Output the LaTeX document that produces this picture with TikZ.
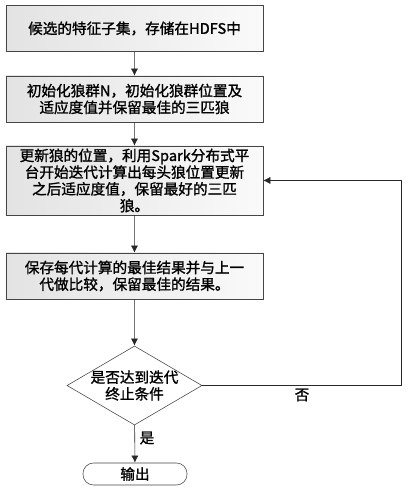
\documentclass[tikz,border=0pt]{standalone}
\usepackage{fontspec}
\setmainfont{Noto Sans CJK SC}[BoldFont={Noto Sans CJK SC},BoldFeatures={FakeBold=1.3}]
\usepackage{xcolor}
\definecolor{Col1}{RGB}{70,70,70}
\definecolor{Col2}{RGB}{40,40,40}
\usepackage{tikz}
\usetikzlibrary{shapes}
\usetikzlibrary{arrows.meta}
\tikzstyle{Step}=[rectangle,draw=Col1,left color=black!11,right color=black!2,
minimum width=6.425cm,text width=6.2cm,align=center,inner sep=0pt,
font=\fontsize{10.4}{11.9}\selectfont\bfseries]
\tikzstyle{Test}=[diamond,draw=Col1,fill=white,shape aspect=1.71,inner sep=-3pt,
minimum width=3.375cm,minimum height=1.975cm,align=center,
font=\fontsize{10.4}{11.9}\selectfont\bfseries]
\tikzstyle{Stop}=[rectangle,rounded corners=7.5pt,draw=Col1,fill=white,
minimum width=2.6cm,minimum height=0.55cm,inner sep=0pt,
font=\fontsize{10.4}{11.9}\selectfont\bfseries]
\tikzstyle{Edge}=[draw=Col2,thin,-{Latex[length=5pt,width=5pt]}]
\tikzstyle{NodeST}=[font=\fontsize{10.4}{11.9}\selectfont\bfseries]

\begin{document}
\begin{tikzpicture}[xscale=.025,yscale=.025]
        \useasboundingbox(0,0)rectangle(408,-500);
        \node[Step,minimum height=1.15cm](set)at(134.5,-28.5)
            {候选的特征子集，存储在HDFS中};
        \node[Step,minimum height=1.15cm](init)at(134.5,-99.00)
            {初始化狼群N，初始化狼群位置及\\适应度值并保留最佳的三匹狼};
        \node[Step,minimum height=1.725cm](upd)at(134.5,-180.5)
            {更新狼的位置，利用Spark分布式平\\台开始迭代计算出每头狼位置更新\\之后适应度值，保留最好的三匹\\狼。};
        \node[Step,minimum height=1.15cm](keep)at(134.5,-276.0)
            {保存每代计算的最佳结果并与上一\\代做比较，保留最佳的结果。};
        \node[Test](dec)at(134.5,-385.5){是否达到迭代\\终止条件};
        \node[Stop](out)at(135.0,-474.0){输出};
        \coordinate(r)at(401.0,0);
        \draw[Edge](set)--(init);
        \draw[Edge](init)--(upd);
        \draw[Edge](upd)--(keep);
        \draw[Edge](keep)--(dec);
        \draw[Edge](dec)--(out);
        \draw[Edge](dec.east)--(dec.east-|r)|-(upd.east);
        \node[NodeST](no)at(302.0,-395.0){否};
        \node[NodeST](yes)at(147.0,-438.0){是};
    \end{tikzpicture}
\end{document}
